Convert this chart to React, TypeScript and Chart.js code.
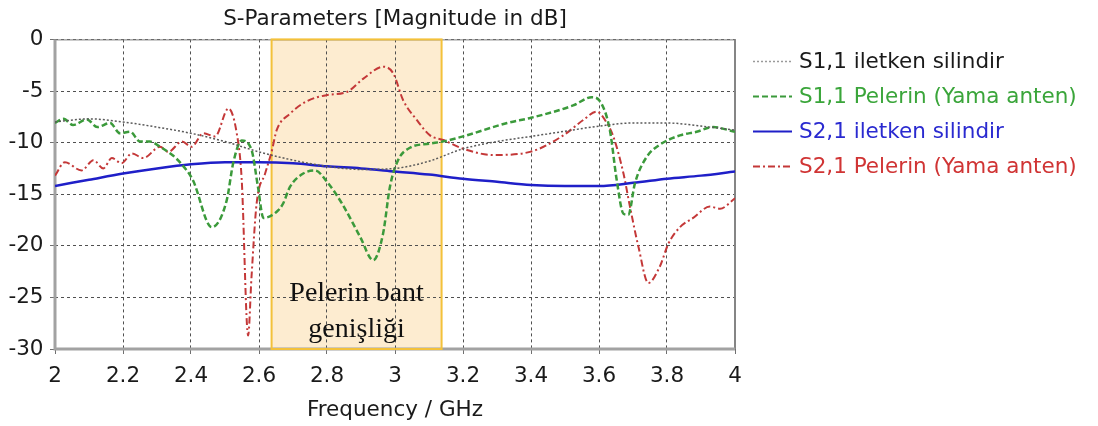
import { useEffect, useRef } from "react";
import { Chart, registerables } from "chart.js";

Chart.register(...registerables);

// Axis ticks
const xTickValues = [2, 2.2, 2.4, 2.6, 2.8, 3, 3.2, 3.4, 3.6, 3.8, 4];
const xTickLabels = ["2", "2.2", "2.4", "2.6", "2.8", "3", "3.2", "3.4", "3.6", "3.8", "4"];
const yTickValues = [0, -5, -10, -15, -20, -25, -30];
const yTickLabels = ["0", "-5", "-10", "-15", "-20", "-25", "-30"];

const chartTitle = "S-Parameters [Magnitude in dB]";
const xAxisTitle = "Frequency / GHz";

const seriesNames = [
  "S1,1 iletken silindir",
  "S1,1 Pelerin (Yama anten)",
  "S2,1 iletken silindir",
  "S2,1 Pelerin (Yama anten)",
];

// Highlighted band (GHz) and its caption
const bandStartGHz = 2.637;
const bandEndGHz = 3.137;
const bandCaption = ["Pelerin bant", "genişliği"];

// S1,1 iletken silindir
const s11CylFreq = [2.0, 2.1, 2.2, 2.3, 2.4, 2.5, 2.6, 2.7, 2.8, 2.9, 3.0, 3.1, 3.2, 3.3, 3.4, 3.5, 3.6, 3.7, 3.8, 3.9, 4.0];
const s11CylDb = [-8.0, -7.7, -8.0, -8.5, -9.1, -9.9, -10.9, -11.7, -12.3, -12.6, -12.5, -11.8, -10.6, -9.9, -9.4, -8.9, -8.4, -8.1, -8.1, -8.4, -8.8];

// S1,1 Pelerin (Yama anten)
const s11CloakFreq = [
  2.0, 2.025, 2.053, 2.094, 2.124, 2.162, 2.191, 2.221, 2.25, 2.279, 2.309, 2.345, 2.37, 2.405,
  2.461, 2.505, 2.524, 2.549, 2.578, 2.597, 2.613, 2.652, 2.671, 2.691, 2.73, 2.765, 2.8, 2.844,
  2.897, 2.936, 2.965, 2.985, 3.009, 3.044, 3.103, 3.14, 3.2, 3.33, 3.4, 3.524, 3.579, 3.603,
  3.632, 3.652, 3.672, 3.686, 3.706, 3.74, 3.779, 3.838, 3.887, 3.935, 4.0,
];
const s11CloakDb = [
  -8.1, -7.7, -8.3, -7.75, -8.5, -8.1, -9.1, -8.95, -9.9, -9.9, -10.4, -11.2, -12.0, -13.6,
  -18.2, -15.6, -12.0, -9.8, -10.7, -14.3, -17.3, -16.7, -15.9, -14.3, -13.0, -12.7, -13.8, -15.9,
  -19.1, -21.4, -18.8, -14.3, -11.7, -10.5, -10.1, -9.9, -9.4, -8.1, -7.6, -6.4, -5.6, -6.0,
  -8.8, -13.6, -16.9, -17.0, -13.9, -11.4, -10.2, -9.3, -8.95, -8.5, -8.95,
];

// S2,1 iletken silindir
const s21CylFreq = [2.0, 2.1, 2.2, 2.3, 2.4, 2.5, 2.6, 2.7, 2.8, 2.9, 3.0, 3.1, 3.2, 3.3, 3.4, 3.5, 3.6, 3.7, 3.8, 3.9, 4.0];
const s21CylDb = [-14.2, -13.6, -13.0, -12.5, -12.1, -11.9, -11.9, -12.0, -12.3, -12.5, -12.8, -13.1, -13.5, -13.8, -14.1, -14.2, -14.2, -13.9, -13.5, -13.2, -12.8];

// S2,1 Pelerin (Yama anten)
const s21CloakFreq = [
  2.0, 2.029, 2.078, 2.113, 2.142, 2.167, 2.196, 2.226, 2.26, 2.309, 2.333, 2.373, 2.402, 2.436,
  2.471, 2.51, 2.534, 2.549, 2.568, 2.578, 2.593, 2.618, 2.637, 2.652, 2.691, 2.74, 2.799, 2.858,
  2.907, 2.966, 2.995, 3.024, 3.064, 3.103, 3.142, 3.201, 3.289, 3.397, 3.495, 3.554, 3.593,
  3.623, 3.642, 3.672, 3.691, 3.716, 3.745, 3.779, 3.804, 3.838, 3.877, 3.926, 3.956, 4.0,
];
const s21CloakDb = [
  -13.2, -11.9, -12.7, -11.7, -12.5, -11.5, -12.0, -11.05, -11.5, -10.4, -10.9, -9.9, -10.4, -9.1,
  -9.4, -6.7, -9.0, -13.5, -28.7, -23.0, -15.9, -13.0, -10.9, -8.8, -7.2, -6.0, -5.4, -5.1,
  -3.8, -2.65, -3.3, -5.9, -7.8, -9.3, -9.75, -10.6, -11.2, -10.9, -9.3, -7.8, -7.0,
  -8.1, -9.4, -13.0, -16.2, -20.1, -23.6, -22.0, -19.8, -18.2, -17.3, -16.2, -16.4, -15.4,
];

const FONT = '"DejaVu Sans", Tahoma, sans-serif';
const FONT_SIZE = 21.5;

const lineStyles = [
  { color: "#5a5a5a", text: "#1a1a1a", width: 1.5, dash: [2, 2] },
  { color: "#3b9a3b", text: "#3aa53a", width: 2.5, dash: [6, 3] },
  { color: "#1f1fc8", text: "#2a2ad0", width: 2.5, dash: [] as number[] },
  { color: "#c43838", text: "#d03434", width: 2, dash: [7, 3, 2, 3] },
];

const toPoints = (xs: number[], ys: number[]) => xs.map((x, i) => ({ x, y: ys[i] }));

const bandPlugin = {
  id: "bandPlugin",
  beforeDraw(chart: any) {
    const { ctx, scales } = chart;
    const x0 = scales.x.getPixelForValue(bandStartGHz);
    const x1 = scales.x.getPixelForValue(bandEndGHz);
    const y0 = scales.y.getPixelForValue(0);
    const y1 = scales.y.getPixelForValue(-30);
    ctx.save();
    ctx.fillStyle = "#fdecd0";
    ctx.fillRect(x0, y0, x1 - x0, y1 - y0);
    ctx.restore();
  },
  beforeDatasetsDraw(chart: any) {
    const { ctx, chartArea: a, scales } = chart;
    ctx.save();
    ctx.setLineDash([]);
    // plot frame
    ctx.strokeStyle = "#7a7a7a";
    ctx.lineWidth = 1;
    ctx.beginPath();
    ctx.moveTo(a.left, a.top + 0.5);
    ctx.lineTo(a.right, a.top + 0.5);
    ctx.stroke();
    ctx.strokeStyle = "#858585";
    ctx.lineWidth = 2;
    ctx.beginPath();
    ctx.moveTo(a.right, a.top);
    ctx.lineTo(a.right, a.bottom);
    ctx.stroke();
    ctx.strokeStyle = "#a2a2a2";
    ctx.lineWidth = 3;
    ctx.beginPath();
    ctx.moveTo(a.left, a.top);
    ctx.lineTo(a.left, a.bottom);
    ctx.lineTo(a.right, a.bottom);
    ctx.stroke();
    // band outline
    const x0 = scales.x.getPixelForValue(bandStartGHz);
    const x1 = scales.x.getPixelForValue(bandEndGHz);
    const y0 = scales.y.getPixelForValue(0);
    const y1 = scales.y.getPixelForValue(-30);
    ctx.strokeStyle = "#f3c13a";
    ctx.lineWidth = 2;
    ctx.strokeRect(x0, y0, x1 - x0, y1 - y0);
    ctx.restore();
  },
  afterDraw(chart: any) {
    const { ctx, scales } = chart;
    ctx.save();
    // band caption
    const cx = (scales.x.getPixelForValue(bandStartGHz) + scales.x.getPixelForValue(bandEndGHz)) / 2;
    ctx.fillStyle = "#111";
    ctx.font = '28px "Liberation Serif", "Times New Roman", serif';
    ctx.textAlign = "center";
    ctx.textBaseline = "alphabetic";
    ctx.fillText(bandCaption[0], cx, 301);
    ctx.fillText(bandCaption[1], cx, 337);
    // legend
    ctx.font = `${FONT_SIZE}px ${FONT}`;
    ctx.textAlign = "left";
    ctx.textBaseline = "middle";
    seriesNames.forEach((name, i) => {
      const y = 61.5 + i * 35;
      const s = lineStyles[i];
      ctx.strokeStyle = i === 0 ? "#9a9a9a" : s.color;
      ctx.lineWidth = i === 0 ? 1.5 : 2;
      ctx.setLineDash(s.dash);
      ctx.beginPath();
      ctx.moveTo(753, y);
      ctx.lineTo(792, y);
      ctx.stroke();
      ctx.setLineDash([]);
      ctx.fillStyle = s.text;
      ctx.fillText(name, 799, y + 1);
    });
    ctx.restore();
  },
};

export default function App() {
  const canvasRef = useRef<HTMLCanvasElement | null>(null);

  useEffect(() => {
    const canvas = canvasRef.current;
    if (!canvas) return;
    const series = [
      toPoints(s11CylFreq, s11CylDb),
      toPoints(s11CloakFreq, s11CloakDb),
      toPoints(s21CylFreq, s21CylDb),
      toPoints(s21CloakFreq, s21CloakDb),
    ];
    const chart = new Chart(canvas, {
      type: "line",
      data: {
        datasets: series.map((data, i) => ({
          label: seriesNames[i],
          data,
          borderColor: lineStyles[i].color,
          borderWidth: lineStyles[i].width,
          borderDash: lineStyles[i].dash,
          pointRadius: 0,
          fill: false,
          cubicInterpolationMode: "monotone" as const,
        })),
      },
      options: {
        animation: false,
        responsive: false,
        layout: { padding: { left: 0, right: 363, top: 0, bottom: 0 } },
        plugins: {
          legend: { display: false },
          tooltip: { enabled: false },
          title: {
            display: true,
            text: chartTitle,
            fullSize: false,
            color: "#1a1a1a",
            font: { family: FONT, size: FONT_SIZE, weight: "normal" },
            padding: { top: 6.3, bottom: 7.3 },
          },
        },
        scales: {
          x: {
            type: "linear",
            min: 2,
            max: 4,
            afterFit: (axis: any) => {
              axis.height = 77;
            },
            afterBuildTicks: (axis: any) => {
              axis.ticks = xTickValues.map((value) => ({ value }));
            },
            ticks: {
              color: "#1a1a1a",
              font: { family: FONT, size: FONT_SIZE },
              padding: 10,
              maxRotation: 0,
              autoSkip: false,
              callback: (value: any) => {
                const i = xTickValues.findIndex((v) => Math.abs(v - Number(value)) < 1e-6);
                return i >= 0 ? xTickLabels[i] : "";
              },
            },
            grid: { color: "#505050", lineWidth: 1, tickLength: 5, tickColor: "#707070" },
            border: { display: false, dash: [3, 3] },
            title: {
              display: true,
              text: xAxisTitle,
              color: "#1a1a1a",
              font: { family: FONT, size: FONT_SIZE },
              padding: { top: 0, bottom: 3 },
            },
          },
          y: {
            type: "linear",
            min: -30,
            max: 0,
            afterFit: (axis: any) => {
              axis.width = 55;
            },
            afterBuildTicks: (axis: any) => {
              axis.ticks = yTickValues.map((value) => ({ value }));
            },
            ticks: {
              color: "#1a1a1a",
              font: { family: FONT, size: FONT_SIZE },
              padding: 6.5,
              callback: (value: any) => {
                const i = yTickValues.findIndex((v) => Math.abs(v - Number(value)) < 1e-6);
                return i >= 0 ? yTickLabels[i] : "";
              },
            },
            grid: { color: "#505050", lineWidth: 1, tickLength: 5, tickColor: "#707070" },
            border: { display: false, dash: [3, 3] },
          },
        },
      },
      plugins: [bandPlugin],
    });
    return () => chart.destroy();
  }, []);

  return (
    <div style={{ position: "absolute", left: 0, top: 0, width: 1098, height: 426, background: "#fff" }}>
      <canvas ref={canvasRef} width={1098} height={426} />
    </div>
  );
}
